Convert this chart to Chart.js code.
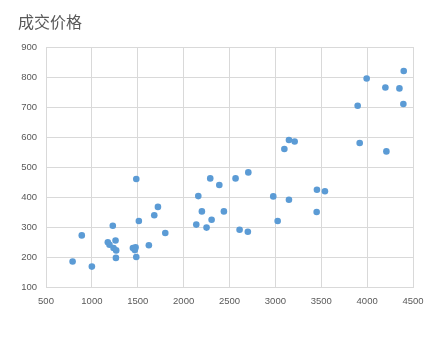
<!DOCTYPE html>
<html>
<head>
<meta charset="utf-8">
<script src="https://cdn.jsdelivr.net/npm/chart.js@4"></script>
<style>
  html, body { margin: 0; padding: 0; background: #fff; }
  #wrap { width: 441px; height: 349px; }
</style>
</head>
<body>
<div id="wrap"><canvas id="scatter" width="441" height="349"></canvas></div>
<script>
// 数据
const chartTitle = "成交价格";
const areaX = [790, 890, 1000, 1174, 1192, 1228, 1236, 1258, 1265, 1262,
  1447, 1468, 1476, 1484, 1484, 1512, 1621, 1680, 1720, 1800,
  2138, 2160, 2199, 2250, 2290, 2305, 2389, 2439, 2566, 2610,
  2700, 2705, 2977, 3025, 3098, 3148, 3148, 3210, 3450, 3453,
  3540, 3897, 3919, 3995, 4199, 4210, 4352, 4395, 4399];
const priceY = [185, 272, 168, 249, 241, 304, 230, 255, 222, 197,
  230, 223, 232, 200, 460, 320, 239, 339, 367, 280,
  308, 403, 352, 298, 462, 324, 440, 352, 462, 291,
  284, 482, 402, 320, 560, 590, 391, 585, 350, 424,
  419, 704, 580, 795, 765, 552, 762, 710, 820];
const xTicks = [500, 1000, 1500, 2000, 2500, 3000, 3500, 4000, 4500];
const yTicks = [100, 200, 300, 400, 500, 600, 700, 800, 900];

const points = areaX.map((x, i) => ({ x: x, y: priceY[i] }));

// 标题
const titlePlugin = {
  id: 'titleText',
  afterDraw(chart) {
    const c = chart.ctx;
    c.save();
    c.font = '16px "Noto Sans CJK SC"';
    c.fillStyle = '#595959';
    c.textBaseline = 'middle';
    c.fillText(chartTitle, 18, 22);
    c.restore();
  }
};

const tickFont = { family: 'Liberation Sans', size: 9.5 };

const ctx = document.getElementById('scatter').getContext('2d');
new Chart(ctx, {
  type: 'scatter',
  data: {
    datasets: [{
      data: points,
      backgroundColor: '#5b9bd5',
      borderColor: '#5b9bd5',
      borderWidth: 0,
      pointRadius: 3.3,
      pointHoverRadius: 3.3
    }]
  },
  options: {
    responsive: false,
    animation: false,
    layout: { padding: { left: 0, right: 28, top: 47, bottom: 32 } },
    plugins: {
      legend: { display: false },
      tooltip: { enabled: false }
    },
    scales: {
      x: {
        type: 'linear',
        min: 500,
        max: 4500,
        afterBuildTicks: (axis) => { axis.ticks = xTicks.map(v => ({ value: v })); },
        afterFit: (axis) => { axis.height = 30; },
        grid: { color: '#d9d9d9', drawTicks: false },
        border: { color: '#d9d9d9' },
        ticks: {
          padding: 9,
          color: '#595959',
          font: tickFont,
          maxRotation: 0,
          callback: (v) => String(v)
        }
      },
      y: {
        type: 'linear',
        min: 100,
        max: 900,
        afterBuildTicks: (axis) => { axis.ticks = yTicks.map(v => ({ value: v })); },
        afterFit: (axis) => { axis.width = 46; },
        grid: { color: '#d9d9d9', drawTicks: false },
        border: { color: '#d9d9d9' },
        ticks: {
          padding: 9,
          color: '#595959',
          font: tickFont,
          callback: (v) => String(v)
        }
      }
    }
  },
  plugins: [titlePlugin]
});
</script>
</body>
</html>
